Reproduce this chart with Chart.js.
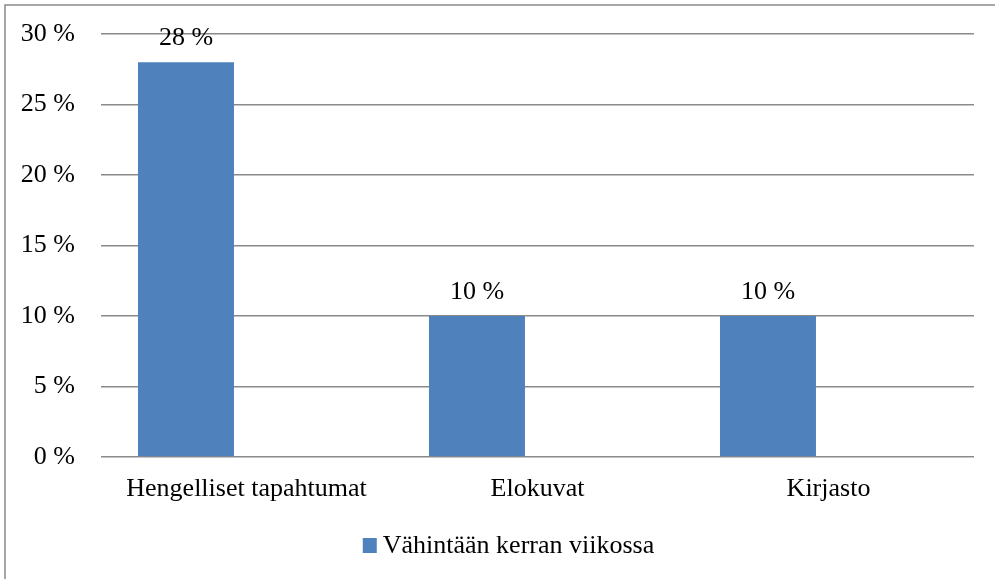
<!DOCTYPE html>
<html>
<head>
<meta charset="utf-8">
<script src="https://cdn.jsdelivr.net/npm/chart.js@4/dist/chart.umd.min.js"></script>
<style>
  html, body { margin: 0; padding: 0; background: #fff; }
  #wrap { width: 995px; height: 579px; position: relative; }
</style>
</head>
<body>
<div id="wrap"><canvas id="chart" width="995" height="579"></canvas></div>
<script>
// Chart data
const categories = ["Hengelliset tapahtumat", "Elokuvat", "Kirjasto"];
const seriesName = "Vähintään kerran viikossa";
const weeklyValues = [28, 10, 10];
const yTicks = [0, 5, 10, 15, 20, 25, 30];

const FONT = "'Liberation Serif', 'Times New Roman', serif";
const FONT_SIZE = 26;
const BAR_COLOR = "#4f81bd";

// Grey frame on the top and left edges, like the original export
const framePlugin = {
  id: "frame",
  beforeDraw(chart) {
    const ctx = chart.ctx;
    ctx.save();
    ctx.strokeStyle = "#8a8a8a";
    ctx.lineWidth = 1.5;
    ctx.beginPath();
    ctx.moveTo(5, chart.height);
    ctx.lineTo(5, 5);
    ctx.lineTo(chart.width, 5);
    ctx.stroke();
    ctx.restore();
  },
};

// Value labels above each bar
const valueLabels = {
  id: "valueLabels",
  afterDatasetsDraw(chart) {
    const ctx = chart.ctx;
    const meta = chart.getDatasetMeta(0);
    ctx.save();
    ctx.font = FONT_SIZE + "px " + FONT;
    ctx.fillStyle = "#000";
    ctx.textAlign = "center";
    ctx.textBaseline = "alphabetic";
    meta.data.forEach((bar, i) => {
      ctx.fillText(weeklyValues[i] + " %", bar.x, bar.y - 17);
    });
    ctx.restore();
  },
};

// Legend drawn by hand so the box sits close to its text
const legendPlugin = {
  id: "simpleLegend",
  afterDraw(chart) {
    const ctx = chart.ctx;
    ctx.save();
    ctx.font = FONT_SIZE + "px " + FONT;
    const textW = ctx.measureText(seriesName).width;
    const box = 14, gap = 6;
    const total = box + gap + textW;
    const cx = chart.width / 2 + 11;
    const x0 = cx - total / 2;
    const cy = chart.height - 34;
    ctx.fillStyle = BAR_COLOR;
    ctx.fillRect(x0, cy - 7, box, 15);
    ctx.fillStyle = "#000";
    ctx.textBaseline = "middle";
    ctx.textAlign = "left";
    ctx.fillText(seriesName, x0 + box + gap, cy + 1);
    ctx.restore();
  },
};

new Chart(document.getElementById("chart"), {
  type: "bar",
  data: {
    labels: categories,
    datasets: [
      {
        label: seriesName,
        data: weeklyValues,
        backgroundColor: BAR_COLOR,
        categoryPercentage: 0.832,
        barPercentage: 0.793,
      },
      {
        // empty second slot, keeps the bars left of centre as in the original
        label: "",
        data: categories.map(() => null),
        backgroundColor: "rgba(0,0,0,0)",
        categoryPercentage: 0.832,
        barPercentage: 0.793,
      },
    ],
  },
  options: {
    responsive: false,
    animation: false,
    layout: { padding: { left: 0, right: 21, top: 34, bottom: 56 } },
    plugins: {
      legend: { display: false },
      tooltip: { enabled: false },
    },
    scales: {
      x: {
        grid: { display: false, drawTicks: false },
        border: { display: false },
        ticks: {
          font: { family: FONT, size: FONT_SIZE },
          color: "#000",
          padding: 17,
          maxRotation: 0,
        },
        afterFit(scale) {
          scale.height = 66;
        },
      },
      y: {
        min: 0,
        max: 30,
        afterBuildTicks(scale) {
          scale.ticks = yTicks.map((v) => ({ value: v }));
        },
        grid: { color: "#8a8a8a", lineWidth: 1.5, drawTicks: false },
        border: { display: false },
        ticks: {
          font: { family: FONT, size: FONT_SIZE },
          color: "#000",
          padding: 26,
          callback: (v) => v + " %",
        },
        afterFit(scale) {
          scale.width = 101;
          // the tick padding would otherwise push the plot area down
          scale.paddingTop = 0;
          scale.paddingBottom = 0;
        },
      },
    },
  },
  plugins: [framePlugin, valueLabels, legendPlugin],
});
</script>
</body>
</html>
